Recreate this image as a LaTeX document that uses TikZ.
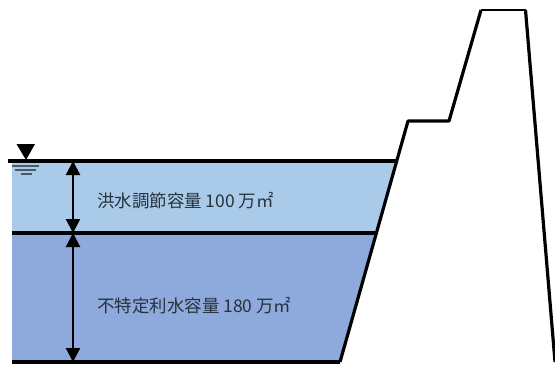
\documentclass[tikz,border=0pt]{standalone}
\usepackage{fontspec}
\newfontfamily\cjkjp{Noto Sans CJK JP}
\usepackage{tikz}
\usetikzlibrary{arrows.meta}
\definecolor{floodblue}{HTML}{A9CBE9}
\definecolor{storeblue}{HTML}{8EA9DB}
\definecolor{labelgrey}{HTML}{26323C}
\definecolor{ripplegrey}{HTML}{4A5A68}

\begin{document}
\begin{tikzpicture}
  [x=0.75pt,y=-0.75pt,
   level/.style={draw=black,line width=2.4pt},
   dam/.style={draw=black,line width=2.4pt,line join=round},
   gauge/.style={draw=black,line width=1.6pt,{Triangle[length=10.5pt,width=10.5pt]}-{Triangle[length=10.5pt,width=10.5pt]}},
   ripple/.style={draw=ripplegrey,line width=1.4pt},
   volume/.style={anchor=west,inner sep=0pt,text=labelgrey,font=\cjkjp\fontsize{13.1pt}{15pt}\selectfont}]
  \useasboundingbox (0,0) rectangle (555,369);
  % dam outline points
  \coordinate (toe) at (340,362);
  \coordinate (berm_l) at (408,121);
  \coordinate (berm_r) at (449,121);
  \coordinate (crest_l) at (481,10);
  \coordinate (crest_r) at (525.5,10);
  \coordinate (heel) at (555,362);
  \coordinate (surface_l) at (8,161);
  \coordinate (surface_r) at (396.7,161);
  \coordinate (split_l) at (12,233);
  \coordinate (split_r) at (376.4,233);
  \coordinate (bed_l) at (12,362);
  % water
  \fill[floodblue] (12,161) -- (surface_r) -- (split_r) -- (split_l) -- cycle;
  \fill[storeblue] (split_l) -- (split_r) -- (toe) -- (bed_l) -- cycle;
  % lines
  \draw[level] (surface_l) -- (surface_r);
  \draw[level] (split_l) -- (split_r);
  \draw[level] (bed_l) -- (toe);
  \draw[dam] (toe) -- (berm_l) -- (berm_r) -- (crest_l);
  \draw[dam] (crest_r) -- (heel);
  \draw[draw=black,line width=1pt] (crest_l) -- (crest_r);
  \draw[gauge] (73,161) -- (73,233);
  \draw[gauge] (73,233) -- (73,362);
  % water level mark
  \fill[black] (16.5,144) -- (35,144) -- (26,160) -- cycle;
  \draw[ripple] (12,166) -- (39,166);
  \draw[ripple] (15,170) -- (36,170);
  \draw[ripple] (21,174) -- (32,174);
  \node[volume] (flood) at (97,201) {洪水調節容量 100 万㎡};
  \node[volume] (store) at (97,306) {不特定利水容量 180 万㎡};
\end{tikzpicture}
\end{document}
